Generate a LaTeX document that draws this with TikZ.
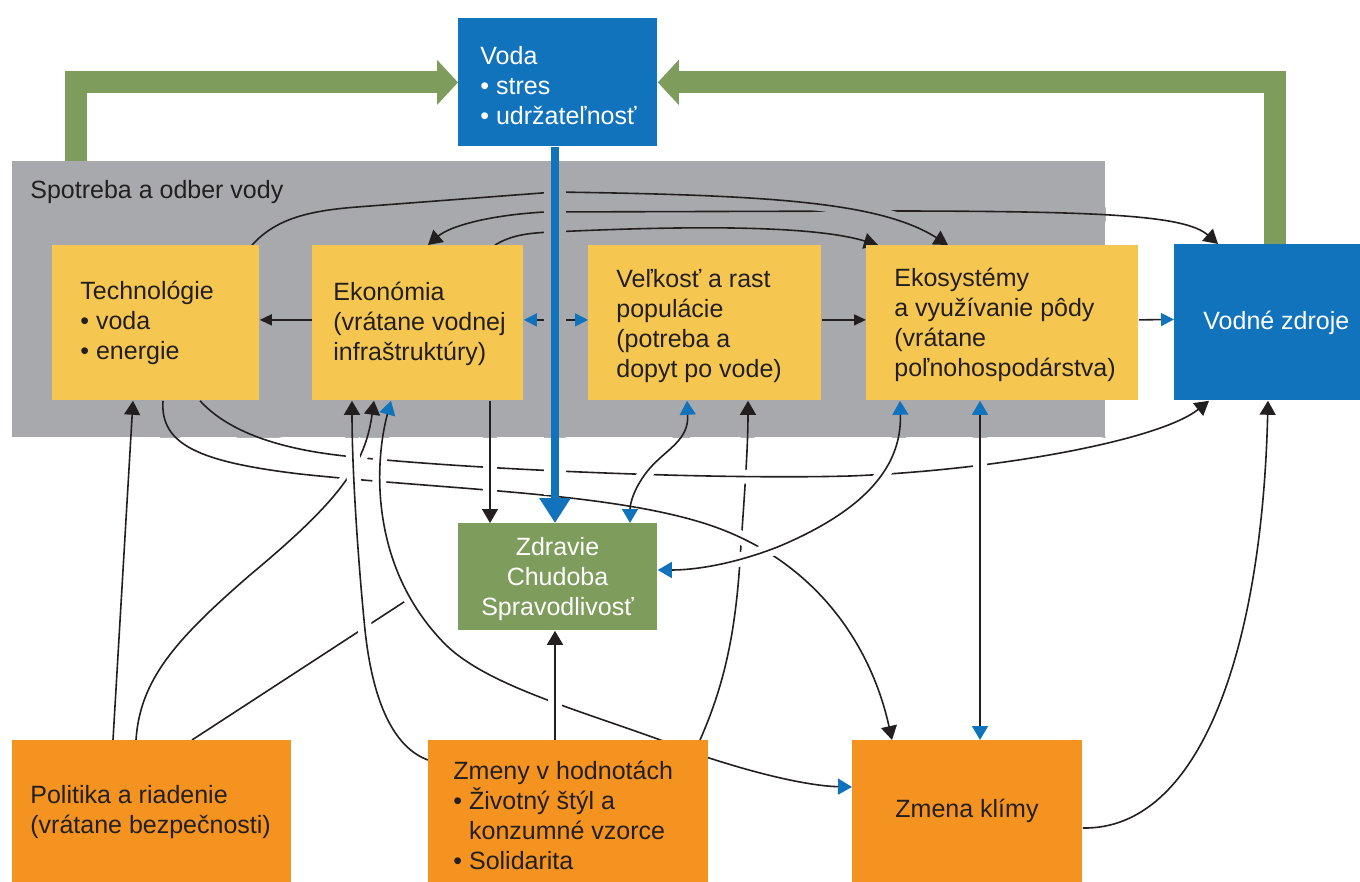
\documentclass[tikz,border=0pt]{standalone}
\usepackage{fontspec}
\setmainfont{Liberation Sans}
\usetikzlibrary{arrows.meta,calc}

\definecolor{vblue}{HTML}{1273BD}
\definecolor{bandgray}{HTML}{A7A9AC}
\definecolor{boxyellow}{HTML}{F6C750}
\definecolor{boxgreen}{HTML}{7E9C5B}
\definecolor{boxorange}{HTML}{F4931F}
\definecolor{ink}{HTML}{231F20}

\pgfdeclarelayer{bandlayer}
\pgfdeclarelayer{linelayer}
\pgfsetlayers{bandlayer,linelayer,main}

\tikzset{
  boxshape/.style 2 args={draw=none, inner sep=0pt, anchor=north west,
    minimum width=#1*0.5pt, minimum height=#2*0.5pt},
  txt/.style={inner sep=0pt, anchor=west, align=left, text=ink,
    font=\fontsize{12.5pt}{15pt}\selectfont},
  conn/.style={draw=ink, line width=0.8pt},
  halo/.style={line width=7pt, shorten >=9pt, shorten <=9pt},
  tk/.tip={Triangle[length=7pt,width=8pt]},
  tb/.tip={Triangle[length=7pt,width=8pt,color=vblue]},
  tks/.tip={Triangle[length=6pt,width=5.5pt]},
  tbs/.tip={Triangle[length=6.5pt,width=6.5pt,color=vblue]},
}

% connector that breaks the lines it crosses: a halo in the colour of
% whatever lies beneath (gray inside the band, white elsewhere), then the line
\newcommand\hcon[3][]{%
  \begin{scope}
    \clip (band.north west) rectangle (band.south east);
    \draw[halo,draw=bandgray,#1] #3;
  \end{scope}
  \begin{scope}
    \clip (cnw) rectangle (band.north -| cse)
          (band.south -| cnw) rectangle (cse)
          (band.north -| cnw) rectangle (band.south west)
          (band.north east) rectangle (band.south -| cse);
    \draw[halo,draw=white,#1] #3;
  \end{scope}
  \draw[#2] #3;
}

\begin{document}
\begin{tikzpicture}[x=0.5pt,y=-0.5pt]
\coordinate (cnw) at (0,0);
\coordinate (cse) at (1360,882);
\useasboundingbox (cnw) rectangle (cse);

\begin{pgfonlayer}{bandlayer}
  \fill[white] (cnw) rectangle (cse);
  \node[boxshape={1093}{276}, fill=bandgray] (band) at (12,161) {};
\end{pgfonlayer}

% boxes
\node[boxshape={199}{128}, fill=vblue]      (voda)   at (458,18)  {};
\node[boxshape={207}{155}, fill=boxyellow]  (tech)   at (52,245)  {};
\node[boxshape={211}{155}, fill=boxyellow]  (eko)    at (312,245) {};
\node[boxshape={233}{155}, fill=boxyellow]  (pop)    at (588,245) {};
\node[boxshape={272}{155}, fill=boxyellow]  (eco)    at (866,245) {};
\node[boxshape={186}{156}, fill=vblue]      (zdroje) at (1174,244) {};
\node[boxshape={199}{107}, fill=boxgreen]   (zdr)    at (458,523) {};
\node[boxshape={279}{142}, fill=boxorange]  (pol)    at (12,740)  {};
\node[boxshape={280}{142}, fill=boxorange]  (hod)    at (428,740) {};
\node[boxshape={230}{142}, fill=boxorange]  (klima)  at (852,740) {};

% texts
\node[txt] (bandT) at (30,192) {Spotreba a odber vody};
\node[txt, text=white] (vodaT) at (480,86) {Voda\\• stres\\• udržateľnosť};
\node[txt] (techT) at (80,323) {Technológie\\• voda\\• energie};
\node[txt] (ekoT) at (333,324) {Ekonómia\\(vrátane vodnej\\infraštruktúry)};
\node[txt] (popT) at (616,326) {Veľkosť a rast\\populácie\\(potreba a\\dopyt po vode)};
\node[txt] (ecoT) at (894,325) {Ekosystémy\\a využívanie pôdy\\(vrátane\\poľnohospodárstva)};
\node[txt, text=white] (zdrojeT) at (1203,323) {Vodné zdroje};
\node[txt, text=white, anchor=center, align=center] (zdrT) at (557.5,579) {Zdravie\\Chudoba\\Spravodlivosť};
\node[txt] (polT) at (30,812) {Politika a riadenie\\(vrátane bezpečnosti)};
\node[txt] (hodT) at (453,815) {Zmeny v hodnotách\\• Životný štýl a\\\hphantom{• }konzumné vzorce\\• Solidarita};
\node[txt, anchor=center, align=center] (klimaT) at (967,811) {Zmena klímy};

\coordinate (stub) at (407,600);

\begin{pgfonlayer}{linelayer}
  % wide green feedback arrows into Voda
  \draw[line width=11pt, draw=boxgreen, -{Triangle[length=10.5pt,width=22pt]}]
    ($(band.north west)+(64,0)$) |- (voda.west);
  \draw[line width=11pt, draw=boxgreen, -{Triangle[length=10.5pt,width=22pt]}]
    ($(zdroje.north west)+(101,0)$) |- (voda.east);

  % lower web of connectors, lowest first
  \hcon{conn,-tk}{($(hod.north west)+(272,0)$) .. controls (722,690) and (735,640) .. (740,560) .. controls (744,500) and (748,450) .. ($(pop.south west)+(160,0)$)}
  \hcon{conn}{($(pol.north west)+(180,0)$) -- (stub)}
  \hcon{conn,-tk}{($(tech.south west)+(111,0)$) .. controls (160,445) and (200,462) .. (300,474) .. controls (450,490) and (600,492) .. (700,522) .. controls (810,555) and (870,640) .. ($(klima.north west)+(40,0)$)}
  \hcon{conn,-tk}{($(tech.south west)+(148,0)$) .. controls (225,428) and (270,448) .. (345,456) .. controls (450,468) and (700,480) .. (850,476) .. controls (1000,470) and (1160,440) .. ($(zdroje.south west)+(35,0)$)}
  \hcon{conn,-tk}{($(pol.north west)+(124,0)$) .. controls (140,680) and (175,640) .. (250,575) .. controls (340,500) and (365,465) .. ($(eko.south west)+(62,0)$)}
  \hcon{conn,-tk}{($(hod.north west)+(0,20)$) .. controls (395,748) and (373,705) .. (365,630) .. controls (358,560) and (352,470) .. ($(eko.south west)+(40,0)$)}
  \hcon{conn,tb-tb}{($(eko.south west)+(79,0)$) .. controls (375,460) and (368,565) .. (444,643) .. controls (490,690) and (600,715) .. (700,755) .. controls (760,775) and (810,786) .. ($(klima.north west)+(0,47)$)}
  \hcon{conn,-tk}{($(hod.north west)+(127,0)$) -- ($(zdr.south west)+(97,0)$)}
  \hcon{conn,-tk}{($(eko.south west)+(178,0)$) -- ($(zdr.north west)+(32,0)$)}
  \hcon{conn,tb-tb}{($(pop.south west)+(99,0)$) .. controls (689,440) and (668,448) .. (650,468) .. controls (633,488) and (630,505) .. ($(zdr.north west)+(172,0)$)}
  \hcon{conn,tb-tb}{($(eco.south west)+(34,0)$) .. controls (902,470) and (860,512) .. (780,546) .. controls (740,562) and (700,570) .. ($(zdr.north east)+(0,47)$)}
  \hcon{conn,tb-tb}{($(eco.south west)+(114,0)$) -- ($(klima.north west)+(128,0)$)}
  \draw[conn,-tk] ($(klima.north east)+(0,88)$) .. controls (1200,830) and (1262,650) .. ($(zdroje.south west)+(94,0)$);
  \draw[conn,-tk] ($(pol.north west)+(101,0)$) -- ($(tech.south west)+(81,0)$);

  % connectors across the top of the band
  \hcon{conn,tk-tk}{($(eko.north west)+(116,0)$) .. controls (450,226) and (490,215) .. (545,212) -- (880,211) .. controls (1100,211) and (1185,215) .. ($(zdroje.north west)+(44,0)$)}
  \hcon{conn,-tk}{($(tech.north west)+(200,0)$) .. controls (275,220) and (305,211) .. (357,207) -- (555,192) .. controls (770,195) and (880,202) .. ($(eco.north west)+(82,0)$)}
  \hcon{conn,-tk}{($(eko.north west)+(183,0)$) .. controls (510,236) and (525,233) .. (552,232) .. controls (700,225) and (815,226) .. ($(eco.north west)+(12,0)$)}

  % links between neighbouring boxes
  \draw[conn,-tks] ($(eko.west)+(0,-3)$) -- ($(tech.east)+(0,-3)$);
  \draw[conn,tbs-tbs] ($(eko.east)+(0,-3)$) -- ($(pop.west)+(0,-3)$);
  \draw[conn,-tks] ($(pop.east)+(0,-3)$) -- ($(eco.west)+(0,-3)$);
  \draw[conn,-tbs] ($(eco.east)+(0,-3)$) -- ($(zdroje.west)+(0,-3)$);

  % Voda feeding health, poverty and equity
  \hcon[line width=11pt, shorten >=14pt, shorten <=0pt]{draw=vblue, line width=4pt, -{Triangle[length=12.5pt,width=15pt]}}{($(voda.south west)+(97,0)$) -- ($(zdr.north west)+(97,0)$)}
\end{pgfonlayer}
\end{tikzpicture}
\end{document}
